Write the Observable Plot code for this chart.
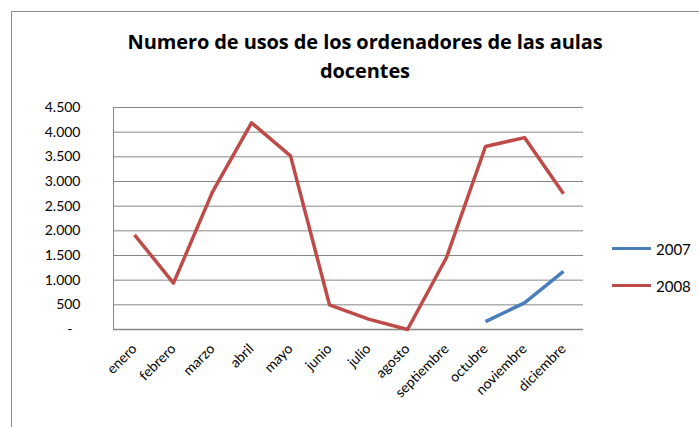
<!DOCTYPE html>
<html>
<head>
<meta charset="utf-8">
<script src="https://cdn.jsdelivr.net/npm/d3@7"></script>
<script src="https://cdn.jsdelivr.net/npm/@observablehq/plot@0.6"></script>
<style>
  html, body { margin: 0; padding: 0; background: #fff; }
  #wrap { position: relative; width: 699px; height: 427px; overflow: hidden; font-family: Lato, "Open Sans", sans-serif; }
  #frame { position: absolute; left: 11px; top: 11px; width: 760px; height: 500px; border: 1px solid #8c8c8c; box-sizing: border-box; }
  #title { position: absolute; left: 90px; width: 550px; top: 27px; text-align: center; font-family: "Open Sans", Lato, sans-serif; font-weight: bold; font-size: 20px; line-height: 29px; color: #000; letter-spacing: -0.1px; }
  #legend { position: absolute; left: 612px; top: 230px; font-size: 15px; color: #000; }
  .li { display: flex; align-items: center; height: 37px; }
  .sw { width: 39px; height: 3.5px; margin-right: 5px; }
  #chart { position: absolute; left: 0; top: 0; }
</style>
</head>
<body>
<div id="wrap">
  <div id="frame"></div>
  <div id="chart"></div>
  <div id="title">Numero de usos de los ordenadores de las aulas<br>docentes</div>
  <div id="legend"></div>
</div>
<script>
const months = ["enero","febrero","marzo","abril","mayo","junio","julio","agosto","septiembre","octubre","noviembre","diciembre"];
const series = ["2007", "2008"];
const values2007 = [null, null, null, null, null, null, null, null, null, 160, 540, 1180];
const values2008 = [1920, 940, 2790, 4190, 3520, 500, 210, 0, 1460, 3710, 3890, 2750];
const yTicks = [0, 500, 1000, 1500, 2000, 2500, 3000, 3500, 4000, 4500];
const colors = ["#4a7ebb", "#be4b48"];

const data = [];
months.forEach((m, i) => {
  data.push({month: m, serie: "2007", value: values2007[i]});
  data.push({month: m, serie: "2008", value: values2008[i]});
});

const fmt = d => d === 0 ? "-\u2007" : d3.format(",")(d).replace(/,/g, ".");

// left axis line drawn from the frame dimensions
const leftAxisLine = (index, scales, values, dim) => {
  const ns = "http://www.w3.org/2000/svg";
  const l = document.createElementNS(ns, "line");
  const x = dim.marginLeft + 0.5;
  l.setAttribute("x1", x); l.setAttribute("x2", x);
  l.setAttribute("y1", scales.y(4500)); l.setAttribute("y2", scales.y(0));
  l.setAttribute("stroke", "#868686");
  return l;
};

const chart = Plot.plot({
  width: 699,
  height: 427,
  marginLeft: 113,
  marginRight: 116,
  marginTop: 107,
  marginBottom: 98,
  style: {fontFamily: "Lato, 'Open Sans', sans-serif", fontSize: "13px", background: "transparent"},
  x: {type: "point", domain: months, padding: 0.5},
  y: {domain: [0, 4500], ticks: yTicks},
  color: {domain: series, range: colors},
  marks: [
    Plot.gridY(yTicks.filter(d => d > 0), {stroke: "#868686", strokeOpacity: 1, strokeWidth: 1}),
    Plot.ruleY([0], {stroke: "#868686", strokeWidth: 1.5}),
    leftAxisLine,
    Plot.axisY({ticks: yTicks, tickFormat: fmt, tickSize: 0, tickPadding: 33, fontSize: 14, fill: "#000", label: null}),
    Plot.axisX({tickSize: 0, tickPadding: 17, tickRotate: -45, fontSize: 14, fill: "#000", label: null}),
    Plot.line(data.filter(d => d.value != null), {x: "month", y: "value", z: "serie", stroke: "serie", strokeWidth: 3.5, strokeLinejoin: "round", strokeLinecap: "butt"})
  ]
});
document.getElementById("chart").appendChild(chart);

const legend = document.getElementById("legend");
series.forEach((s, i) => {
  const row = document.createElement("div");
  row.className = "li";
  row.innerHTML = `<span class="sw" style="background:${colors[i]}"></span><span>${s}</span>`;
  legend.appendChild(row);
});
</script>
</body>
</html>
